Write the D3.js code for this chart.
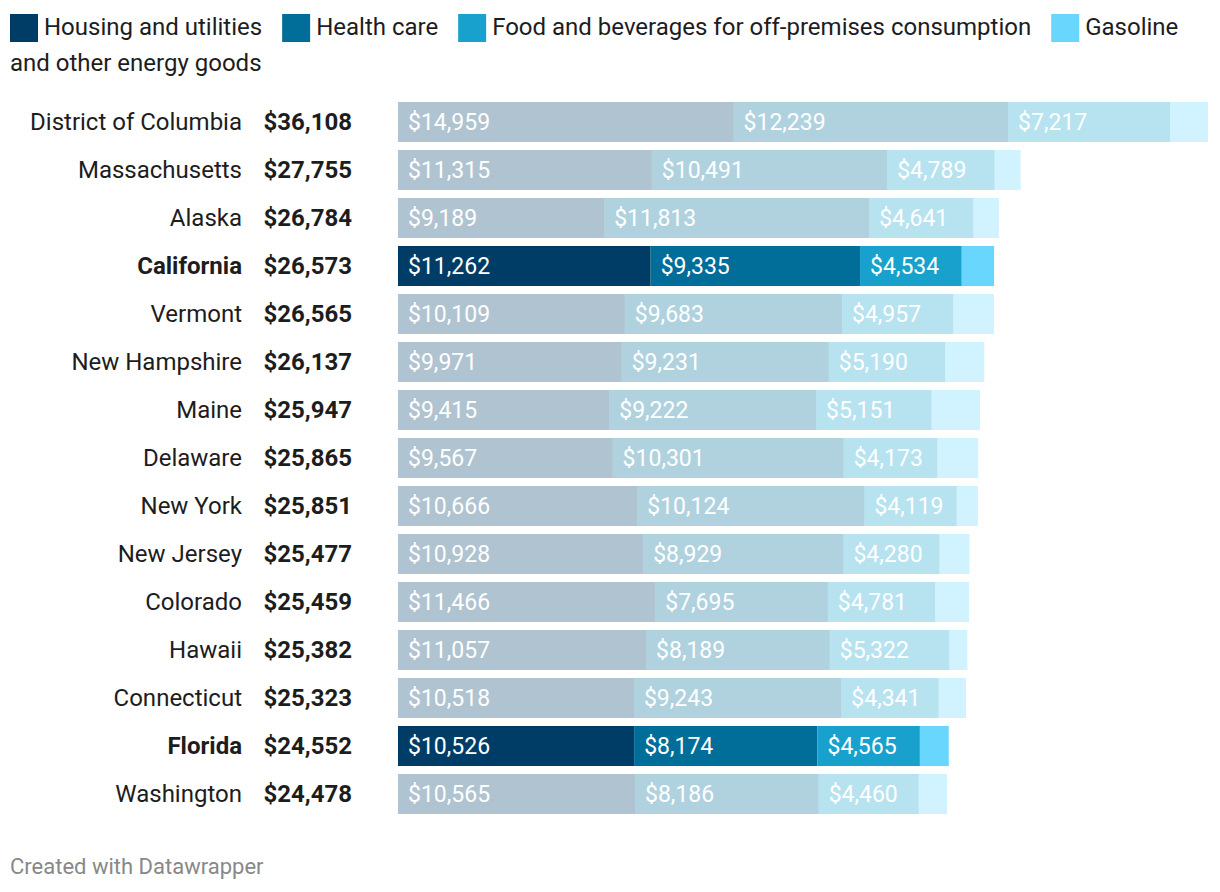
<!DOCTYPE html>
<html>
<head>
<meta charset="utf-8">
<script src="https://cdn.jsdelivr.net/npm/d3@7"></script>
<style>
  body { margin: 0; background: #fff; }
  svg { display: block; font-family: Roboto, sans-serif; }
</style>
</head>
<body>
<svg id="chart" width="1220" height="892"></svg>
<script>
// data
var states = ["District of Columbia", "Massachusetts", "Alaska", "California", "Vermont", "New Hampshire", "Maine", "Delaware", "New York", "New Jersey", "Colorado", "Hawaii", "Connecticut", "Florida", "Washington"]
var totals = [36108, 27755, 26784, 26573, 26565, 26137, 25947, 25865, 25851, 25477, 25459, 25382, 25323, 24552, 24478]
var housing = [14959, 11315, 9189, 11262, 10109, 9971, 9415, 9567, 10666, 10928, 11466, 11057, 10518, 10526, 10565]
var health = [12239, 10491, 11813, 9335, 9683, 9231, 9222, 10301, 10124, 8929, 7695, 8189, 9243, 8174, 8186]
var food = [7217, 4789, 4641, 4534, 4957, 5190, 5151, 4173, 4119, 4280, 4781, 5322, 4341, 4565, 4460]
var gasoline = [1693, 1160, 1141, 1442, 1816, 1745, 2159, 1824, 942, 1340, 1517, 814, 1221, 1287, 1267]
var highlighted = ["California", "Florida"]

var categories = ["Housing and utilities", "Health care", "Food and beverages for off-premises consumption", "Gasoline and other energy goods"]
var colors = ["#003d66", "#006e98", "#18a1cd", "#69d6fe"]

var svg = d3.select("#chart")
var fmt = d3.format("$,")

// legend, wraps word by word like the original
var lx = 10, ly = 35
categories.forEach(function (c, i) {
    svg.append("rect")
        .attr("x", lx)
        .attr("y", ly - 21)
        .attr("width", 28)
        .attr("height", 28)
        .attr("fill", colors[i])
    var tx = lx + 34
    var t = svg.append("text")
        .attr("font-size", 24)
        .attr("fill", "#1d1d1d")
    var tspan = t.append("tspan").attr("x", tx).attr("y", ly)
    var line = []
    c.split(" ").forEach(function (w) {
        line.push(w)
        tspan.text(line.join(" "))
        if (tx + tspan.node().getComputedTextLength() > 1212 && line.length > 1) {
            line.pop()
            tspan.text(line.join(" "))
            line = [w]
            tx = 10
            ly += 36
            tspan = t.append("tspan").attr("x", tx).attr("y", ly).text(w)
        }
    })
    lx = tx + tspan.node().getComputedTextLength() + 20
})

var rows = states.map(function (s, i) {
    return { state: s, total: totals[i], vals: [housing[i], health[i], food[i], gasoline[i]] }
})

var x = d3.scaleLinear().domain([0, d3.max(totals)]).range([398, 1208])
var y = d3.scaleBand().domain(states).range([102, 814]).paddingInner(1 / 6)

var row = svg.selectAll(".row")
    .data(rows)
    .enter()
    .append("g")
    .attr("class", "row")

row.each(function (d) {
    var g = d3.select(this)
    var hi = highlighted.indexOf(d.state) > -1
    var cy = y(d.state) + y.bandwidth() / 2
    g.append("text")
        .attr("x", 242)
        .attr("y", cy)
        .attr("dy", "0.35em")
        .attr("text-anchor", "end")
        .attr("font-size", 24)
        .attr("font-weight", hi ? "bold" : "normal")
        .attr("fill", "#1d1d1d")
        .text(d.state)
    g.append("text")
        .attr("x", 352)
        .attr("y", cy)
        .attr("dy", "0.35em")
        .attr("text-anchor", "end")
        .attr("font-size", 24)
        .attr("font-weight", "bold")
        .attr("fill", "#1d1d1d")
        .text(fmt(d.total))

    var start = 0
    d.vals.forEach(function (v, j) {
        g.append("rect")
            .attr("x", x(start))
            .attr("y", y(d.state))
            .attr("width", x(start + v) - x(start))
            .attr("height", y.bandwidth())
            .attr("fill", colors[j])
            .attr("fill-opacity", hi ? 1 : 0.31)
        if (j < 3) {
            g.append("text")
                .attr("x", x(start) + 10)
                .attr("y", cy)
                .attr("dy", "0.35em")
                .attr("font-size", 23)
                .attr("fill", "#fff")
                .text(fmt(v))
        }
        start += v
    })
})

svg.append("text")
    .attr("x", 10)
    .attr("y", 874)
    .attr("font-size", 22)
    .attr("fill", "#888")
    .text("Created with Datawrapper")
</script>
</body>
</html>
